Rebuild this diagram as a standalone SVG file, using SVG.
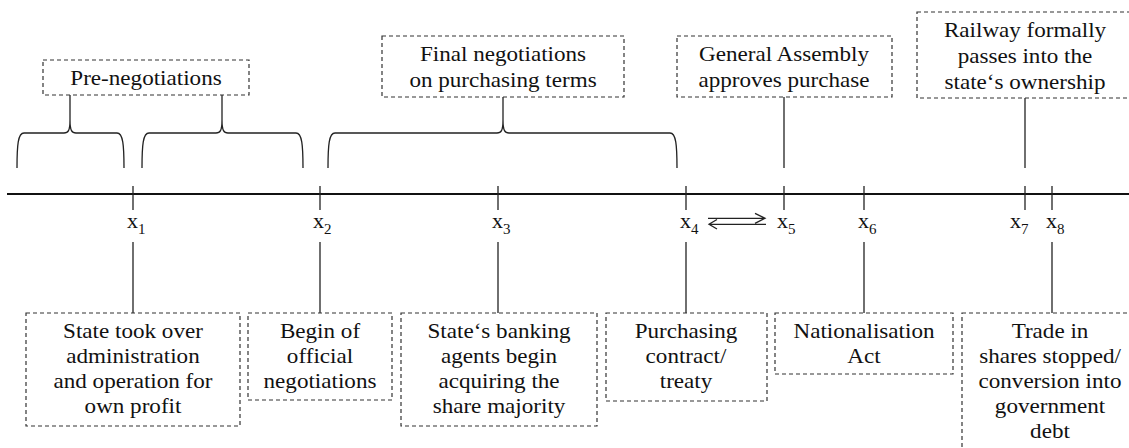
<svg xmlns="http://www.w3.org/2000/svg" width="1129" height="448" viewBox="0 0 1129 448">
<defs>
<style>
.box{fill:none;stroke:#333;stroke-width:1.2;stroke-dasharray:4 3}
.ln{fill:none;stroke:#222;stroke-width:1.3}
.axis{fill:none;stroke:#111;stroke-width:1.8}
text{font-family:'Liberation Serif','Times New Roman',Times,serif;fill:#111}
.t{font-size:21px;text-anchor:middle}
.x{font-size:22px}
.sub{font-size:15px}
</style>
</defs>
<rect width="1129" height="448" fill="#fff"/>
<g id="connectors">
  <line class="axis" x1="7" y1="194" x2="1129" y2="194"/>
  <g class="ln">
    <line x1="133" y1="186" x2="133" y2="210"/>
    <line x1="320" y1="186" x2="320" y2="210"/>
    <line x1="498" y1="186" x2="498" y2="210"/>
    <line x1="686" y1="186" x2="686" y2="210"/>
    <line x1="784" y1="186" x2="784" y2="210"/>
    <line x1="864" y1="186" x2="864" y2="210"/>
    <line x1="1025" y1="186" x2="1025" y2="210"/>
    <line x1="1052" y1="186" x2="1052" y2="210"/>
    <line x1="133" y1="242" x2="133" y2="313"/>
    <line x1="320" y1="242" x2="320" y2="313"/>
    <line x1="498" y1="242" x2="498" y2="313"/>
    <line x1="686" y1="242" x2="686" y2="313"/>
    <line x1="864" y1="242" x2="864" y2="313"/>
    <line x1="1052" y1="242" x2="1052" y2="313"/>
    <line x1="784" y1="97" x2="784" y2="168"/>
    <line x1="1025" y1="98" x2="1025" y2="168"/>
    <path d="M17,168 C17,145 18,133 24,133 H64 C68,133 70,131 70,120 V95 M70,120 C70,131 72,133 76,133 H117 C123,133 124,145 124,168"/>
    <path d="M142,168 C142,145 143,133 149,133 H216 C220,133 222,131 222,120 V95 M222,120 C222,131 224,133 228,133 H296 C302,133 303,145 303,168"/>
    <path d="M328,168 C328,145 329,133 335,133 H497 C501,133 503,131 503,120 V97 M503,120 C503,131 505,133 509,133 H670 C676,133 677,145 677,168"/>
    <path d="M708,218.3 H765 M755,213.3 L765,218.3 L755,223.3"/>
    <path d="M709,224.3 H766 M717,219.5 L709,224.3 L717,229"/>
  </g>
</g>
<g id="x-labels">
  <text class="x" x="127" y="228">x<tspan class="sub" dy="6">1</tspan></text>
  <text class="x" x="313" y="228">x<tspan class="sub" dy="6">2</tspan></text>
  <text class="x" x="492" y="228">x<tspan class="sub" dy="6">3</tspan></text>
  <text class="x" x="680" y="228">x<tspan class="sub" dy="6">4</tspan></text>
  <text class="x" x="777" y="228">x<tspan class="sub" dy="6">5</tspan></text>
  <text class="x" x="858" y="228">x<tspan class="sub" dy="6">6</tspan></text>
  <text class="x" x="1010" y="228">x<tspan class="sub" dy="6">7</tspan></text>
  <text class="x" x="1046" y="228">x<tspan class="sub" dy="6">8</tspan></text>
</g>
<g id="pre-negotiations">
  <rect class="box" x="43" y="60" width="206" height="35"/>
  <text class="t" transform="translate(146,85) scale(1.1,1)">Pre-negotiations</text>
</g>
<g id="final-negotiations">
  <rect class="box" x="382" y="36" width="242" height="61"/>
  <text class="t" transform="translate(503,61) scale(1.1,1)"><tspan x="0" y="0">Final negotiations</tspan><tspan x="0" y="26">on purchasing terms</tspan></text>
</g>
<g id="general-assembly">
  <rect class="box" x="677" y="36" width="215" height="61"/>
  <text class="t" transform="translate(784,61) scale(1.1,1)"><tspan x="0" y="0">General Assembly</tspan><tspan x="0" y="26">approves purchase</tspan></text>
</g>
<g id="railway">
  <rect class="box" x="917" y="12" width="216" height="86"/>
  <text class="t" transform="translate(1025,37) scale(1.1,1)"><tspan x="0" y="0">Railway formally</tspan><tspan x="0" y="26">passes into the</tspan><tspan x="0" y="52">state‘s ownership</tspan></text>
</g>
<g id="state-took-over">
  <rect class="box" x="26" y="313" width="214" height="113"/>
  <text class="t" transform="translate(133,338) scale(1.1,1)"><tspan x="0" y="0">State took over</tspan><tspan x="0" y="25">administration</tspan><tspan x="0" y="50">and operation for</tspan><tspan x="0" y="75">own profit</tspan></text>
</g>
<g id="begin-official">
  <rect class="box" x="248" y="313" width="144" height="87"/>
  <text class="t" transform="translate(320,338) scale(1.1,1)"><tspan x="0" y="0">Begin of</tspan><tspan x="0" y="25">official</tspan><tspan x="0" y="50">negotiations</tspan></text>
</g>
<g id="banking-agents">
  <rect class="box" x="401" y="313" width="196" height="113"/>
  <text class="t" transform="translate(499,338) scale(1.1,1)"><tspan x="0" y="0">State‘s banking</tspan><tspan x="0" y="25">agents begin</tspan><tspan x="0" y="50">acquiring the</tspan><tspan x="0" y="75">share majority</tspan></text>
</g>
<g id="purchasing-contract">
  <rect class="box" x="606" y="313" width="161" height="88"/>
  <text class="t" transform="translate(686,338) scale(1.1,1)"><tspan x="0" y="0">Purchasing</tspan><tspan x="0" y="25">contract/</tspan><tspan x="0" y="50">treaty</tspan></text>
</g>
<g id="nationalisation-act">
  <rect class="box" x="775" y="313" width="178" height="61"/>
  <text class="t" transform="translate(864,338) scale(1.1,1)"><tspan x="0" y="0">Nationalisation</tspan><tspan x="0" y="25">Act</tspan></text>
</g>
<g id="trade-stopped">
  <rect class="box" x="962" y="313" width="176" height="150"/>
  <text class="t" transform="translate(1050,338) scale(1.1,1)"><tspan x="0" y="0">Trade in</tspan><tspan x="0" y="25">shares stopped/</tspan><tspan x="0" y="50">conversion into</tspan><tspan x="0" y="75">government</tspan><tspan x="0" y="100">debt</tspan></text>
</g>
</svg>
